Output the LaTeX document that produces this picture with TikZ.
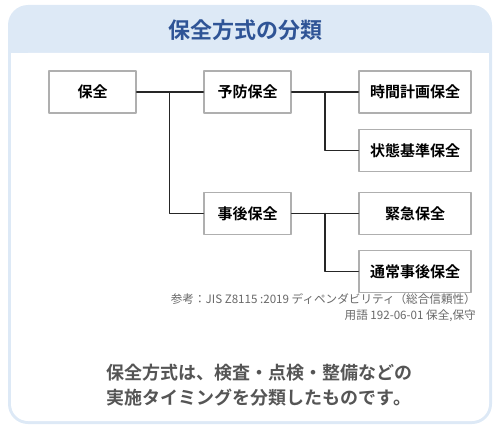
\documentclass[tikz,border=0pt]{standalone}
\usepackage{fontspec}
\setmainfont{Noto Sans CJK JP}[BoldFont={Noto Sans CJK JP Bold}]
\definecolor{frameblue}{RGB}{221,233,246}
\definecolor{titleblue}{RGB}{47,84,150}
\definecolor{boxgray}{RGB}{175,175,175}
\definecolor{notegray}{RGB}{105,105,105}
\definecolor{textgray}{RGB}{85,85,85}
\begin{document}
\begin{tikzpicture}[x=1pt, y=-1pt, line join=round, line cap=round]
	\tikzset{box/.style={draw=boxgray, line width=1.4pt, fill=white, minimum height=42pt, minimum width=87pt, inner sep=0pt, font=\bfseries\fontsize{15}{15}\selectfont}}
	\tikzset{widebox/.style={box, minimum width=112pt}}
	\tikzset{wire/.style={line width=1.5pt, draw=black!85}}
	\useasboundingbox (0,0) rectangle (500,433);
	% frame and header
	\fill[frameblue, rounded corners=20pt] (8,5) rectangle (492,424);
	\fill[white, rounded corners=17pt] (11,53) rectangle (489,421);
	\fill[white] (11,53) rectangle (489,80);
	\node[titleblue, font=\bfseries\fontsize{22}{22}\selectfont] (title) at (245,30) {保全方式の分類};
	% tree
	\node[box] (hozen) at (92.5,92) {保全};
	\node[box] (yobo) at (247.5,92) {予防保全};
	\node[box] (jigo) at (247.5,213.5) {事後保全};
	\node[widebox] (jikan) at (415,92) {時間計画保全};
	\node[widebox] (jotai) at (415,150.5) {状態基準保全};
	\node[widebox] (kinkyu) at (415,213.5) {緊急保全};
	\node[widebox] (tsujo) at (415,271.5) {通常事後保全};
	\coordinate (b1) at (169.5,92);
	\coordinate (b2) at (325,92);
	\coordinate (b3) at (325,213.5);
	\draw[wire] (hozen) -- (yobo);
	\draw[wire] (b1) |- (jigo);
	\draw[wire] (yobo) -- (jikan);
	\draw[wire] (b2) |- (jotai);
	\draw[wire] (jigo) -- (kinkyu);
	\draw[wire] (b3) |- (tsujo);
	% notes
	\node[anchor=east, notegray, align=right, inner sep=0pt, font=\fontsize{11.6}{16}\selectfont] (ref) at (476,308) {参考：JIS Z8115 :2019 ディペンダビリティ（総合信頼性）\\用語 192-06-01 保全,保守};
	\node[textgray, align=center, font=\bfseries\fontsize{18}{25}\selectfont] (summary) at (259,385.5) {保全方式は、検査・点検・整備などの\\実施タイミングを分類したものです。};
\end{tikzpicture}
\end{document}
